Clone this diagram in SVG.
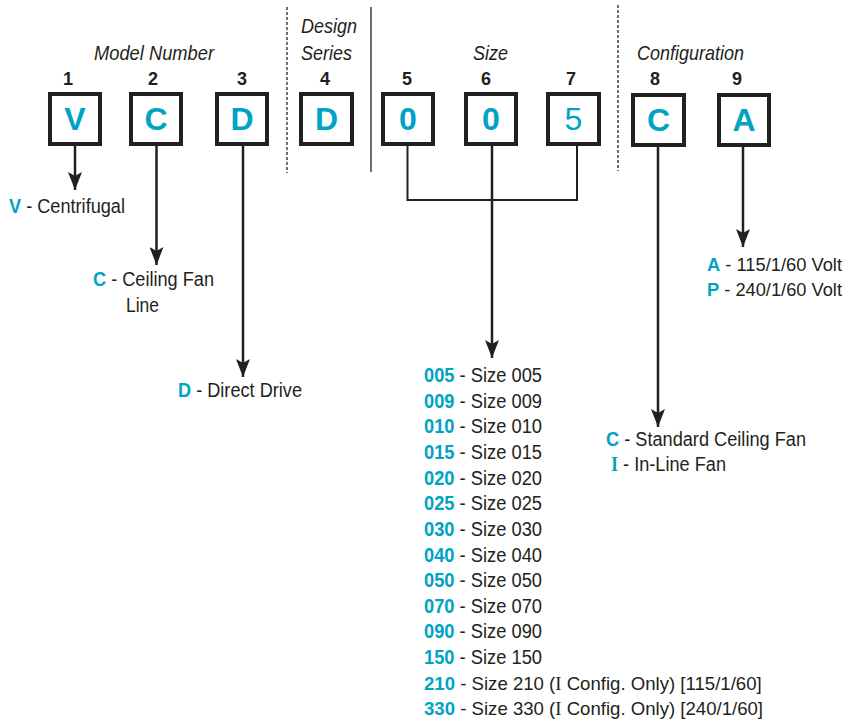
<svg xmlns="http://www.w3.org/2000/svg" width="846" height="721" viewBox="0 0 846 721">
<style>
.t{font-family:"Liberation Sans",Arial,sans-serif;font-size:20px;fill:#231f20}
.hd{font-style:italic;font-size:21px}
.num{font-weight:bold;font-size:18px;text-anchor:middle}
.k{font-weight:bold;fill:#00a3c4}
.box{fill:#fff;stroke:#231f20;stroke-width:4}
.let{font-family:"Liberation Sans",Arial,sans-serif;font-size:32px;font-weight:bold;fill:#00a3c4;text-anchor:middle}
.reg{font-weight:normal}
.ser{font-family:"Liberation Serif","Times New Roman",serif}
.sm{font-size:19px}
.lg{font-size:18.6px}
.ln{fill:none;stroke:#231f20;stroke-width:2.5}
.br{fill:none;stroke:#231f20;stroke-width:2}
.dash{stroke:#231f20;stroke-width:1.3;stroke-dasharray:3 2}
.sep{stroke:#231f20;stroke-width:1.3}
</style>
<defs>
<marker id="ad" markerUnits="userSpaceOnUse" markerWidth="14" markerHeight="18" refX="7" refY="18" viewBox="0 0 14 18" orient="0">
<path d="M0,0 L7,4 L14,0 L7,18 Z" fill="#231f20"/>
</marker>
</defs>

<g id="headers">
<text class="t hd" x="94" y="60" textLength="120" lengthAdjust="spacingAndGlyphs">Model Number</text>
<text class="t hd" x="301" y="33" textLength="56" lengthAdjust="spacingAndGlyphs">Design</text>
<text class="t hd" x="301" y="60" textLength="51" lengthAdjust="spacingAndGlyphs">Series</text>
<text class="t hd" x="473" y="60" textLength="35" lengthAdjust="spacingAndGlyphs">Size</text>
<text class="t hd" x="637" y="60" textLength="107" lengthAdjust="spacingAndGlyphs">Configuration</text>
</g>

<g id="separators">
<line class="dash" x1="287" y1="7" x2="287" y2="173"/>
<line class="sep" x1="371" y1="7" x2="371" y2="172"/>
<line class="dash" x1="618" y1="5" x2="618" y2="171"/>
</g>

<g id="connectors">
<path class="ln" d="M75,146 V190" marker-end="url(#ad)"/>
<path class="ln" d="M156.5,146 V265" marker-end="url(#ad)"/>
<path class="ln" d="M243,146 V377" marker-end="url(#ad)"/>
<path class="br" d="M407.5,146 V200 H577 V146"/>
<path class="ln" d="M492,146 V358" marker-end="url(#ad)"/>
<path class="ln" d="M658,146 V427" marker-end="url(#ad)"/>
<path class="ln" d="M743,146 V247" marker-end="url(#ad)"/>
</g>

<g id="pos1"><text class="t num" x="68" y="85">1</text><rect class="box" x="50" y="94" width="50" height="50"/><text class="let" x="75" y="130">V</text></g>
<g id="pos2"><text class="t num" x="153" y="85">2</text><rect class="box" x="131" y="94" width="50" height="50"/><text class="let" x="156" y="130">C</text></g>
<g id="pos3"><text class="t num" x="242" y="85">3</text><rect class="box" x="217" y="94" width="50" height="50"/><text class="let" x="242" y="130">D</text></g>
<g id="pos4"><text class="t num" x="325" y="85">4</text><rect class="box" x="301" y="94" width="51" height="50"/><text class="let" x="326.5" y="130">D</text></g>
<g id="pos5"><text class="t num" x="407" y="85">5</text><rect class="box" x="383" y="94" width="50" height="50"/><text class="let" x="408" y="130">0</text></g>
<g id="pos6"><text class="t num" x="486" y="85">6</text><rect class="box" x="466" y="94" width="50" height="50"/><text class="let" x="491" y="130">0</text></g>
<g id="pos7"><text class="t num" x="571" y="85">7</text><rect class="box" x="548" y="94" width="51" height="50"/><text class="let reg" x="573.5" y="130">5</text></g>
<g id="pos8"><text class="t num" x="655" y="85">8</text><rect class="box" x="633" y="95" width="51" height="50"/><text class="let" x="658.5" y="131">C</text></g>
<g id="pos9"><text class="t num" x="737" y="85">9</text><rect class="box" x="719" y="95" width="50" height="50"/><text class="let" x="744" y="131">A</text></g>

<g id="opt-model1"><text class="t" x="9" y="213" textLength="116" lengthAdjust="spacingAndGlyphs"><tspan class="k">V</tspan> - Centrifugal</text></g>
<g id="opt-model2"><text class="t" x="93" y="286" textLength="121" lengthAdjust="spacingAndGlyphs"><tspan class="k">C</tspan> - Ceiling Fan</text><text class="t" x="126" y="312" textLength="33" lengthAdjust="spacingAndGlyphs">Line</text></g>
<g id="opt-model3"><text class="t" x="178" y="397" textLength="124" lengthAdjust="spacingAndGlyphs"><tspan class="k">D</tspan> - Direct Drive</text></g>

<g id="opt-size">
<text class="t" x="424" y="382" textLength="118" lengthAdjust="spacingAndGlyphs"><tspan class="k">005</tspan> - Size 005</text>
<text class="t" x="424" y="407.6" textLength="118" lengthAdjust="spacingAndGlyphs"><tspan class="k">009</tspan> - Size 009</text>
<text class="t" x="424" y="433.3" textLength="118" lengthAdjust="spacingAndGlyphs"><tspan class="k">010</tspan> - Size 010</text>
<text class="t" x="424" y="458.9" textLength="118" lengthAdjust="spacingAndGlyphs"><tspan class="k">015</tspan> - Size 015</text>
<text class="t" x="424" y="484.6" textLength="118" lengthAdjust="spacingAndGlyphs"><tspan class="k">020</tspan> - Size 020</text>
<text class="t" x="424" y="510.2" textLength="118" lengthAdjust="spacingAndGlyphs"><tspan class="k">025</tspan> - Size 025</text>
<text class="t" x="424" y="535.8" textLength="118" lengthAdjust="spacingAndGlyphs"><tspan class="k">030</tspan> - Size 030</text>
<text class="t" x="424" y="561.5" textLength="118" lengthAdjust="spacingAndGlyphs"><tspan class="k">040</tspan> - Size 040</text>
<text class="t" x="424" y="587.1" textLength="118" lengthAdjust="spacingAndGlyphs"><tspan class="k">050</tspan> - Size 050</text>
<text class="t" x="424" y="612.8" textLength="118" lengthAdjust="spacingAndGlyphs"><tspan class="k">070</tspan> - Size 070</text>
<text class="t" x="424" y="638.4" textLength="118" lengthAdjust="spacingAndGlyphs"><tspan class="k">090</tspan> - Size 090</text>
<text class="t" x="424" y="664" textLength="118" lengthAdjust="spacingAndGlyphs"><tspan class="k">150</tspan> - Size 150</text>
<text class="t lg" x="424" y="689.7"><tspan class="k">210</tspan> - Size 210 (<tspan class="ser">I</tspan> Config. Only) [115/1/60]</text>
<text class="t lg" x="424" y="715.3"><tspan class="k">330</tspan> - Size 330 (<tspan class="ser">I</tspan> Config. Only) [240/1/60]</text>
</g>

<g id="opt-config">
<text class="t" x="606" y="446" textLength="200" lengthAdjust="spacingAndGlyphs"><tspan class="k">C</tspan> - Standard Ceiling Fan</text>
<text class="t" x="611" y="471" textLength="115" lengthAdjust="spacingAndGlyphs"><tspan class="k ser">I</tspan> - In-Line Fan</text>
</g>

<g id="opt-voltage">
<text class="t sm" x="707" y="271" textLength="135" lengthAdjust="spacingAndGlyphs"><tspan class="k">A</tspan> - 115/1/60 Volt</text>
<text class="t sm" x="707" y="296" textLength="135" lengthAdjust="spacingAndGlyphs"><tspan class="k">P</tspan> - 240/1/60 Volt</text>
</g>
</svg>
